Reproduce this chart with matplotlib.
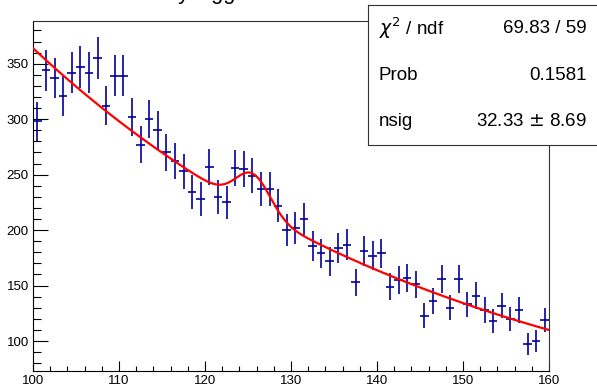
import numpy as np
import matplotlib
matplotlib.use('Agg')
import matplotlib.pyplot as plt
from matplotlib.ticker import MultipleLocator

plt.rcParams['font.family'] = ['Liberation Sans', 'DejaVu Sans']

# histogram: 60 bins of width 1 between 100 and 160
bin_lo = 100
bin_hi = 160
counts = [298, 344, 337, 321, 342, 347, 342, 355, 312, 339,
          339, 302, 277, 300, 290, 270, 262, 253, 234, 228,
          257, 230, 225, 256, 255, 249, 237, 237, 222, 200,
          202, 210, 186, 179, 172, 184, 187, 153, 181, 177,
          179, 149, 155, 157, 151, 123, 136, 156, 130, 156,
          133, 141, 128, 118, 132, 120, 128, 97, 100, 119]

# fit result (exponential background + gaussian bump)
bkg_norm = 364.0
bkg_slope = 0.01995
sig_amp = 32.33
sig_mean = 125.6
sig_width = 2.0

stat_labels = ['$\\chi^2$ / ndf', 'Prob', 'nsig']
stat_values = ['69.83 / 59', '0.1581', '32.33 $\\pm$ 8.69']

counts = np.array(counts, dtype=float)
centers = np.arange(bin_lo, bin_hi) + 0.5
xf = np.linspace(bin_lo, bin_hi, 600)
yf = bkg_norm*np.exp(-bkg_slope*(xf - bin_lo)) + sig_amp*np.exp(-0.5*((xf - sig_mean)/sig_width)**2)

fig = plt.figure(figsize=(5.97, 3.87), dpi=100)
ax = fig.add_axes([33/597, 16/387, 516/597, 350/387])

ax.errorbar(centers, counts, xerr=0.5, yerr=np.sqrt(counts), fmt='none',
            ecolor='#000099', elinewidth=1.2, capsize=0, zorder=2)
ax.plot(xf, yf, color='#ff0000', lw=1.6, zorder=3)

ax.set_xlim(bin_lo, bin_hi)
ax.set_ylim(73, 388.5)
ax.xaxis.set_major_locator(MultipleLocator(10))
ax.xaxis.set_minor_locator(MultipleLocator(2))
ax.yaxis.set_major_locator(MultipleLocator(50))
ax.yaxis.set_minor_locator(MultipleLocator(10))
ax.tick_params(which='both', direction='in', top=False, right=False,
               labelsize=9.5, width=0.8, color='black')
ax.tick_params(axis='y', which='major', length=11, pad=3)
ax.tick_params(axis='y', which='minor', length=5.5)
ax.tick_params(axis='x', which='major', length=7.5, pad=3)
ax.tick_params(axis='x', which='minor', length=3.8)
for s in ax.spines.values():
    s.set_linewidth(0.8)
    s.set_color('#333333')
ax.spines['left'].set_color('black')
ax.spines['bottom'].set_color('black')

# title, mostly cut off at the top of the canvas
fig.text(155/597, 1 + 1.5/387, 'Toy Hgg', fontsize=15.8, ha='left', va='baseline')

# stat box
box = fig.add_axes([368/597, 1 - 145/387, 0.4, 140/387])
box.set_xticks([])
box.set_yticks([])
box.set_xlim(0, 1)
box.set_ylim(0, 3)
for s in box.spines.values():
    s.set_linewidth(0.8)
    s.set_color('#333333')
bw = 597*0.4
for i in range(3):
    yy = 2.5 - i
    box.text(11/bw, yy, stat_labels[i], fontsize=13.5, ha='left', va='center')
    box.text(219/bw, yy, stat_values[i], fontsize=13.5, ha='right', va='center')

fig.savefig('out.png', dpi=100)
